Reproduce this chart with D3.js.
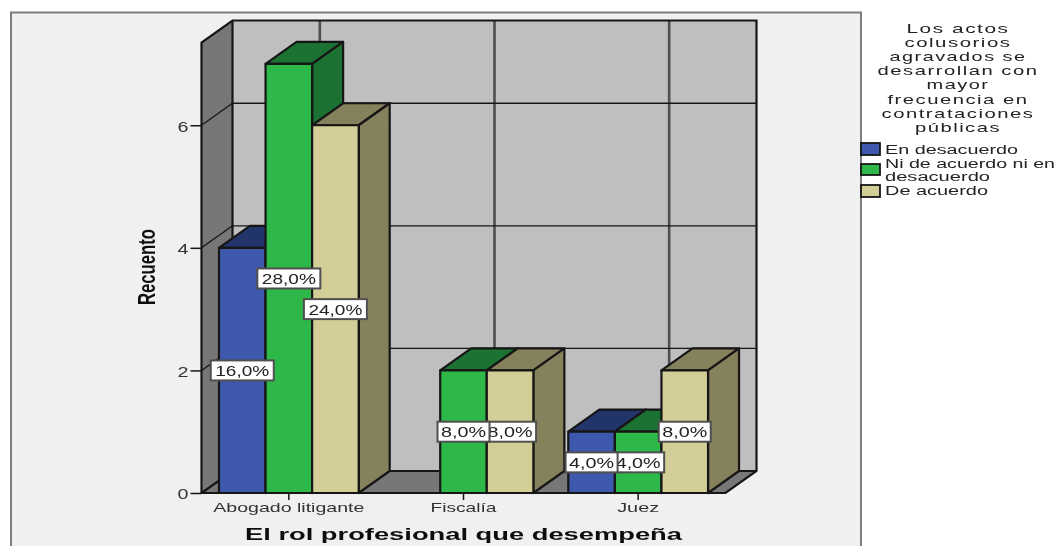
<!DOCTYPE html>
<html><head><meta charset="utf-8">
<script src="https://cdn.jsdelivr.net/npm/d3@7"></script>
<style>
html,body{margin:0;padding:0;background:#fff;overflow:hidden}
svg{display:block}
text{font-family:"Liberation Sans",Arial,sans-serif}
</style></head>
<body><svg id="c" width="1057" height="546"></svg>
<script>
const categories = ["Abogado litigante","Fiscalía","Juez"];
const seriesNames = ["En desacuerdo","Ni de acuerdo ni en desacuerdo","De acuerdo"];
const enDesacuerdo = [4,0,1];
const niDeAcuerdo = [7,2,1];
const deAcuerdo = [6,2,2];
const pctEnDesacuerdo = ["16,0%","","4,0%"];
const pctNiDeAcuerdo = ["28,0%","8,0%","4,0%"];
const pctDeAcuerdo = ["24,0%","8,0%","8,0%"];
const yTicks = [0,2,4,6];
const legendTitle = ["Los actos","colusorios","agravados se","desarrollan con","mayor","frecuencia en","contrataciones","públicas"];
const legendTitleW = [103,107,137,161,63,141,153,86];
const frontColors = ["#3e58ac","#2db84a","#d3ce97"];
const darkColors = ["#24356b","#1c7230","#85815b"];

const svg = d3.select("#c");
const defs = svg.append("defs");
defs.append("filter").attr("id","soft").append("feGaussianBlur").attr("stdDeviation",0.5);
const root = svg.append("g").attr("filter","url(#soft)");
const ink = "#161616";
const dx = 31, dy = -22;
const x0 = d3.scaleBand().domain(categories).range([201.5,725.5]).paddingInner(0.2).paddingOuter(0.1);
const x1 = d3.scaleBand().domain(d3.range(3)).range([0,x0.bandwidth()]);
const y = d3.scaleLinear().domain([0,7.35]).range([493,42.5]);
const all = [enDesacuerdo,niDeAcuerdo,deAcuerdo];
const pcts = [pctEnDesacuerdo,pctNiDeAcuerdo,pctDeAcuerdo];
const poly = pts => pts.map(p=>p.join(",")).join(" ");

// frame
root.append("rect").attr("x",11).attr("y",12.5).attr("width",850).attr("height",560)
  .attr("fill","#f0f0f0").attr("stroke","#7d7d7d").attr("stroke-width",2);

const [xL,xR] = x0.range();
const yB = y(0), yT = y.range()[1];
// back wall, left wall, floor
root.append("polygon").attr("points",poly([[xL+dx,yT+dy],[xR+dx,yT+dy],[xR+dx,yB+dy],[xL+dx,yB+dy]])).attr("fill","#bfbfbf");
root.append("polygon").attr("points",poly([[xL,yT],[xL+dx,yT+dy],[xL+dx,yB+dy],[xL,yB]])).attr("fill","#777777");
root.append("polygon").attr("points",poly([[xL,yB],[xL+dx,yB+dy],[xR+dx,yB+dy],[xR,yB]])).attr("fill","#777777");

// grid on walls
categories.forEach(c=>{
  const cx = x0(c)+x0.bandwidth()/2+dx;
  root.append("line").attr("x1",cx).attr("x2",cx).attr("y1",yT+dy).attr("y2",yB+dy).attr("stroke","#4f4f4f").attr("stroke-width",2.6);
});
yTicks.filter(t=>t>0).forEach(t=>{
  root.append("line").attr("x1",xL).attr("y1",y(t)).attr("x2",xL+dx).attr("y2",y(t)+dy).attr("stroke",ink).attr("stroke-width",1.3);
  root.append("line").attr("x1",xL+dx).attr("y1",y(t)+dy).attr("x2",xR+dx).attr("y2",y(t)+dy).attr("stroke",ink).attr("stroke-width",1.3);
});
// wall outlines
root.append("path").attr("fill","none").attr("stroke",ink).attr("stroke-width",2.2)
  .attr("d",`M${xL},${yB}L${xL},${yT}L${xL+dx},${yT+dy}L${xR+dx},${yT+dy}L${xR+dx},${yB+dy}L${xR},${yB}L${xL},${yB}L${xL+dx},${yB+dy}L${xR+dx},${yB+dy}M${xL+dx},${yT+dy}L${xL+dx},${yB+dy}`);

// bars
categories.forEach((c,ci)=>{
  all.forEach((vals,si)=>{
    const v = vals[ci];
    if(!v) return;
    const l = x0(c)+x1(si), r = l+x1.bandwidth(), t = y(v), b = y(0);
    const g = root.append("g").attr("stroke",ink).attr("stroke-width",2.2).attr("stroke-linejoin","round");
    g.append("polygon").attr("points",poly([[l,t],[l+dx,t+dy],[r+dx,t+dy],[r,t]])).attr("fill",darkColors[si]);
    g.append("polygon").attr("points",poly([[r,t],[r+dx,t+dy],[r+dx,b+dy],[r,b]])).attr("fill",darkColors[si]);
    g.append("rect").attr("x",l).attr("y",t).attr("width",r-l).attr("height",b-t).attr("fill",frontColors[si]);
  });
});

// value labels (later series underneath)
d3.range(2,-1,-1).forEach(si=>{
  categories.forEach((c,ci)=>{
    const v = all[si][ci];
    if(!v) return;
    const cx = x0(c)+x1(si)+x1.bandwidth()/2, cy = y(v/2);
    const txt = pcts[si][ci];
    const w = txt.length>4 ? 63 : 52, tw = txt.length>4 ? 54 : 45;
    root.append("rect").attr("x",cx-w/2).attr("y",cy-10).attr("width",w).attr("height",20)
      .attr("fill","#fff").attr("stroke","#505050").attr("stroke-width",2);
    root.append("text").attr("x",cx).attr("y",cy+5.5).attr("text-anchor","middle").attr("font-size",14.5)
      .attr("fill","#222").attr("textLength",tw).attr("lengthAdjust","spacingAndGlyphs").text(txt);
  });
});

// axes
const yAxis = root.append("g").attr("transform",`translate(${xL},0)`)
  .call(d3.axisLeft(y).tickValues(yTicks).tickSize(11).tickPadding(2).tickFormat(d3.format("d")));
yAxis.select(".domain").remove();
yAxis.selectAll("line").attr("stroke",ink).attr("stroke-width",1.5);
yAxis.selectAll("text").attr("font-size",14).attr("fill","#333").attr("font-family",null).attr("dy","0.42em")
  .attr("textLength",11).attr("lengthAdjust","spacingAndGlyphs");
const xAxis = root.append("g").attr("transform",`translate(0,${yB})`)
  .call(d3.axisBottom(x0).tickSize(7).tickPadding(3));
xAxis.select(".domain").remove();
xAxis.selectAll("line").attr("stroke",ink).attr("stroke-width",1.5);
const xW = [151,66,42];
xAxis.selectAll("text").attr("font-size",13).attr("fill","#333").attr("font-family",null)
  .attr("textLength",(d,i)=>xW[i]).attr("lengthAdjust","spacingAndGlyphs");

// axis titles
root.append("text").attr("x",463.5).attr("y",540).attr("text-anchor","middle").attr("font-size",16.5).attr("font-weight","bold")
  .attr("fill","#111").attr("textLength",437).attr("lengthAdjust","spacingAndGlyphs").text("El rol profesional que desempeña");
root.append("text").attr("transform","translate(155,267) rotate(-90)").attr("text-anchor","middle").attr("font-size",24).attr("font-weight","bold")
  .attr("fill","#111").attr("textLength",76).attr("lengthAdjust","spacingAndGlyphs").text("Recuento");

// legend
legendTitle.forEach((t,i)=>{
  root.append("text").attr("x",958).attr("y",32.5+i*14.2).attr("text-anchor","middle").attr("font-size",13.5)
    .style("letter-spacing","1px")
    .attr("fill","#222").attr("textLength",legendTitleW[i]).attr("lengthAdjust","spacingAndGlyphs").text(t);
});
const swY = [143,164,185], swH=[12,11,12];
seriesNames.forEach((s,i)=>{
  root.append("rect").attr("x",861).attr("y",swY[i]).attr("width",19).attr("height",swH[i])
    .attr("fill",frontColors[i]).attr("stroke",ink).attr("stroke-width",1.8);
});
const legLines = [["En desacuerdo",154,133],["Ni de acuerdo ni en",167.5,170],["desacuerdo",180.5,105],["De acuerdo",195,103]];
legLines.forEach(([t,yy,w])=>{
  root.append("text").attr("x",885).attr("y",yy).attr("font-size",12.5).attr("fill","#222")
    .attr("textLength",w).attr("lengthAdjust","spacingAndGlyphs").text(t);
});
</script></body></html>
